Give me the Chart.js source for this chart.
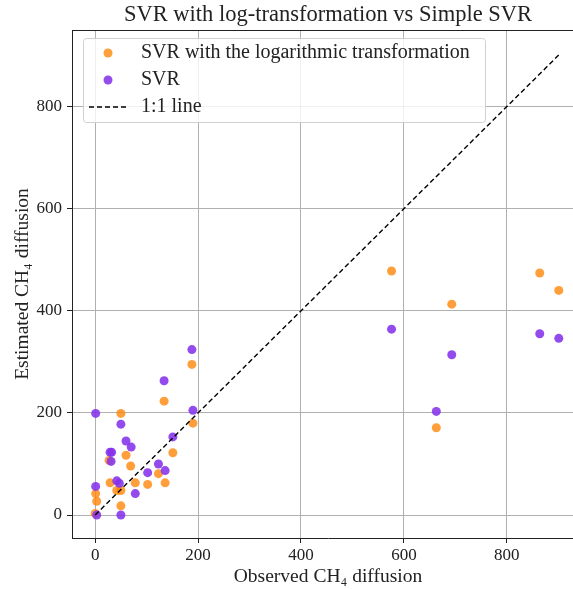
<!DOCTYPE html>
<html>
<head>
<meta charset="utf-8">
<script src="https://cdn.jsdelivr.net/npm/chart.js@4"></script>
<style>
  html, body { margin: 0; padding: 0; background: #fff; overflow: hidden; }
  #wrap { width: 590px; height: 589px; }
</style>
</head>
<body>
<div id="wrap"><canvas id="myChart" width="590" height="589"></canvas></div>
<script>
// observed vs estimated
const logObserved = [0, 1, 3, 27, 29, 42, 50, 50, 50, 60, 69, 78, 102, 123, 136, 134, 151, 188, 190, 576, 663, 693, 864, 901];
const logEstimated = [3, 42, 27, 107, 63, 48, 48, 18, 199, 117, 96, 63, 60, 81, 63, 223, 122, 295, 180, 478, 171, 413, 474, 440];

const svrObserved = [3, 1, 1, 29, 32, 31, 42, 47, 50, 50, 60, 70, 78, 102, 123, 136, 134, 151, 188, 190, 576, 663, 693, 864, 901];
const svrEstimated = [0, 56, 199, 123, 123, 105, 67, 62, 0, 178, 145, 133, 42, 83, 100, 87, 263, 153, 324, 205, 364, 203, 314, 355, 346];

const oneToOne = [0, 905];
const tickValues = [0, 200, 400, 600, 800];

const labelLog = "SVR with the logarithmic transformation";
const labelSvr = "SVR";
const labelLine = "1:1 line";

const orange = "rgba(255, 135, 10, 0.8)";
const purple = "rgba(133, 50, 235, 0.88)";
const serif = "'Liberation Serif', 'DejaVu Serif', serif";

const toPoints = (xs, ys) => xs.map((x, i) => ({ x: x, y: ys[i] }));

const framePlugin = {
  id: "frame",
  afterDraw(chart) {
    const ctx = chart.ctx;
    const a = chart.chartArea;
    ctx.save();
    // top spine
    ctx.strokeStyle = "#222";
    ctx.lineWidth = 1;
    ctx.beginPath();
    ctx.moveTo(a.left, a.top + 0.5);
    ctx.lineTo(a.right, a.top + 0.5);
    ctx.stroke();

    // title
    ctx.fillStyle = "#222";
    ctx.font = "22.5px " + serif;
    ctx.textAlign = "center";
    ctx.textBaseline = "middle";
    ctx.fillText("SVR with log-transformation vs Simple SVR", (a.left + a.right) / 2, 15);

    // legend box
    const bx = 83, by = 38, bw = 402, bh = 84;
    ctx.fillStyle = "rgba(255,255,255,0.8)";
    ctx.strokeStyle = "#d0d0d0";
    ctx.beginPath();
    ctx.roundRect(bx + 0.5, by + 0.5, bw, bh, 3);
    ctx.fill();
    ctx.stroke();

    ctx.font = "20px " + serif;
    ctx.textAlign = "left";
    const rows = [
      { label: labelLog, kind: "dot", color: orange },
      { label: labelSvr, kind: "dot", color: purple },
      { label: labelLine, kind: "line" },
    ];
    rows.forEach((r, i) => {
      const y = 53 + i * 27;
      if (r.kind === "dot") {
        ctx.fillStyle = r.color;
        ctx.beginPath();
        ctx.arc(108, y, 4.5, 0, Math.PI * 2);
        ctx.fill();
      } else {
        ctx.strokeStyle = "#000";
        ctx.lineWidth = 1.4;
        ctx.setLineDash([5, 3]);
        ctx.beginPath();
        ctx.moveTo(89, y);
        ctx.lineTo(127, y);
        ctx.stroke();
        ctx.setLineDash([]);
      }
      ctx.fillStyle = "#222";
      ctx.fillText(r.label, 141, y);
    });
    ctx.restore();
  },
};

const ctx = document.getElementById("myChart").getContext("2d");

new Chart(ctx, {
  type: "scatter",
  data: {
    datasets: [
      {
        label: labelLog,
        data: toPoints(logObserved, logEstimated),
        backgroundColor: orange,
        borderWidth: 0,
        pointRadius: 4.5,
        order: 3,
      },
      {
        label: labelSvr,
        data: toPoints(svrObserved, svrEstimated),
        backgroundColor: purple,
        borderWidth: 0,
        pointRadius: 4.5,
        order: 2,
      },
      {
        type: "line",
        label: labelLine,
        data: toPoints(oneToOne, oneToOne),
        borderColor: "#000",
        borderWidth: 1.4,
        borderDash: [5, 3],
        pointRadius: 0,
        fill: false,
        order: 1,
      },
    ],
  },
  options: {
    responsive: false,
    animation: false,
    layout: { padding: { top: 30, right: 6, left: 0, bottom: 0 } },
    plugins: {
      legend: { display: false },
      title: { display: false },
      tooltip: { enabled: false },
    },
    scales: {
      x: {
        type: "linear",
        min: -45,
        max: 950,
        afterBuildTicks: (scale) => {
          scale.ticks = tickValues.map((v) => ({ value: v }));
        },
        afterFit: (scale) => {
          scale.height = 51;
        },
        grid: { color: "#b0b0b0", tickColor: "#222", tickLength: 5 },
        border: { color: "#222", width: 1 },
        ticks: { color: "#222", font: { family: serif, size: 17 }, padding: 2, maxRotation: 0 },
        title: {
          display: true,
          text: "Observed CH₄ diffusion",
          color: "#222",
          font: { family: serif, size: 19.5 },
          padding: { top: 0, bottom: 0 },
        },
      },
      y: {
        type: "linear",
        min: -45,
        max: 950,
        afterBuildTicks: (scale) => {
          scale.ticks = tickValues.map((v) => ({ value: v }));
        },
        afterFit: (scale) => {
          scale.width = 72;
        },
        grid: { color: "#b0b0b0", tickColor: "#222", tickLength: 5 },
        border: { color: "#222", width: 1 },
        ticks: { color: "#222", font: { family: serif, size: 17 }, padding: 5 },
        title: {
          display: true,
          text: "Estimated CH₄ diffusion",
          color: "#222",
          font: { family: serif, size: 19.5 },
          padding: { top: 11, bottom: 0 },
        },
      },
    },
  },
  plugins: [framePlugin],
});
</script>
</body>
</html>
